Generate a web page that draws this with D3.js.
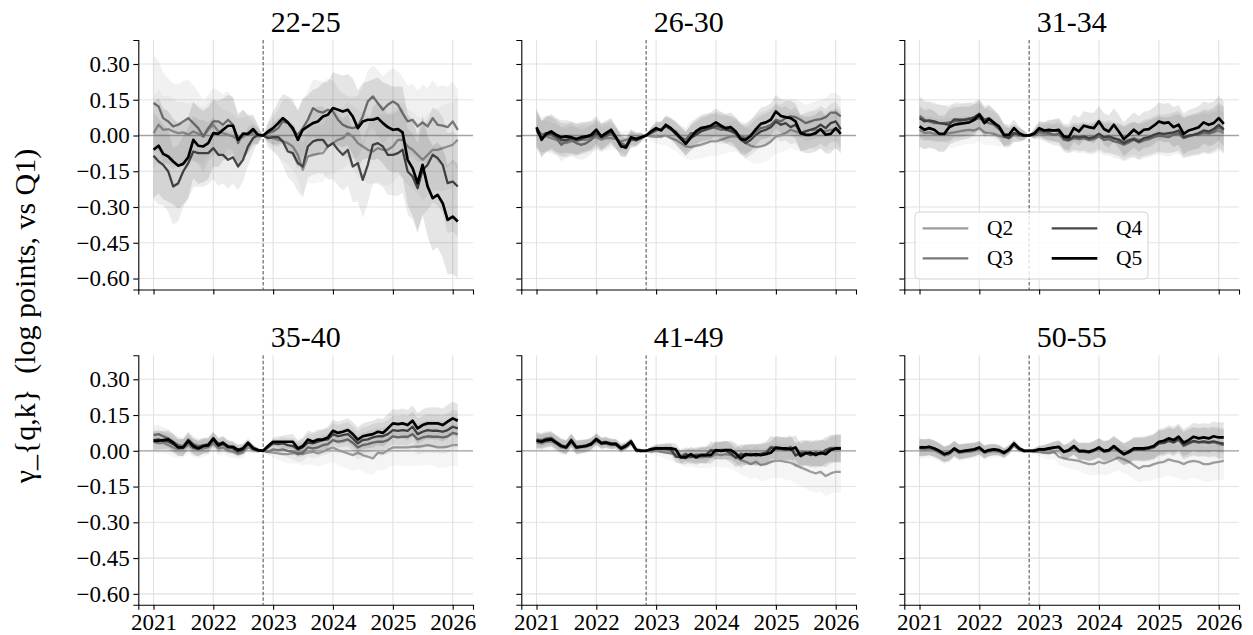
<!DOCTYPE html>
<html>
<head>
<meta charset="utf-8">
<script src="https://cdn.jsdelivr.net/npm/d3@7"></script>
<style>
body { margin: 0; background: #fff; }
svg text { font-family: "Liberation Serif", "Times New Roman", serif; fill: #000; }
</style>
</head>
<body>
<div id="container"></div>
<script>
// age groups (one panel each) and income quintiles (one line each)
var groups = ["22-25", "26-30", "31-34", "35-40", "41-49", "50-55"];
var quintiles = ["Q2", "Q3", "Q4", "Q5"];
var yTicks = [-0.60, -0.45, -0.30, -0.15, 0.00, 0.15, 0.30];
var xTicks = [2021, 2022, 2023, 2024, 2025, 2026];

// monthly estimates Jan 2021 .. Feb 2026 (reference month Nov 2022 = 0)
var p1_q2 = [0.010,0.045,0.024,0.027,0.017,0.010,0.013,0.003,0.017,0.007,-0.004,0.024,0.045,0.017,0.010,0.003,-0.004,-0.018,-0.007,0.010,0.003,-0.004,0,
  -0.004,-0.011,-0.018,-0.025,-0.032,-0.046,-0.081,-0.144,-0.088,-0.081,-0.077,-0.074,-0.046,-0.032,-0.018,-0.011,0.010,-0.004,-0.032,-0.046,-0.060,-0.067,-0.053,-0.060,-0.060,-0.046,-0.018,-0.018,-0.046,-0.060,-0.081,-0.102,-0.081,-0.060,-0.060,-0.053,-0.046,-0.039,-0.018];
var p1_q3 = [0.136,0.122,0.073,0.059,0.038,0.045,0.059,0.073,0.052,0.031,-0.004,0.031,0.059,0.059,0.045,0.066,0.045,-0.032,0.010,0.003,0.017,0.003,0,
  0.010,0.017,0.031,0.059,0.052,0.024,0.003,0.031,0.066,0.115,0.101,0.096,0.108,0.101,0.066,0.045,0.035,0.031,0.038,0.080,0.143,0.164,0.136,0.108,0.129,0.143,0.129,0.094,0.059,0.066,0.038,0.055,0.038,0.073,0.045,0.041,0.035,0.059,0.024];
var p1_q4 = [-0.085,-0.109,-0.123,-0.151,-0.214,-0.200,-0.151,-0.116,-0.067,-0.074,-0.074,-0.074,-0.053,-0.081,-0.081,-0.102,-0.091,-0.130,-0.102,-0.046,-0.011,0.003,0,
  -0.011,-0.007,-0.007,-0.025,-0.067,-0.074,-0.116,-0.130,-0.046,-0.025,-0.018,-0.018,-0.046,-0.032,-0.060,-0.081,-0.060,-0.130,-0.116,-0.186,-0.123,-0.039,-0.032,-0.046,-0.081,-0.081,-0.074,-0.060,-0.151,-0.172,-0.221,-0.144,-0.123,-0.081,-0.095,-0.123,-0.200,-0.193,-0.214];
var p1_q5 = [-0.060,-0.043,-0.077,-0.088,-0.109,-0.127,-0.119,-0.091,-0.018,-0.043,-0.046,-0.032,0.010,0.007,0.024,0.041,0.041,-0.018,0.007,0.007,0.027,0.003,0,
  0.017,0.031,0.052,0.073,0.055,0.031,-0.018,0.024,0.038,0.052,0.059,0.080,0.087,0.115,0.108,0.101,0.108,0.080,0.031,0.059,0.066,0.066,0.073,0.052,0.035,0.024,0.027,0.013,-0.102,-0.137,-0.200,-0.123,-0.214,-0.263,-0.249,-0.284,-0.354,-0.340,-0.361];

var p2_q2 = [0.017,-0.004,-0.004,-0.011,-0.018,-0.025,-0.032,-0.025,-0.025,-0.018,-0.018,-0.011,-0.007,-0.018,-0.011,-0.011,-0.015,-0.025,-0.018,-0.011,-0.011,-0.004,0,
  -0.004,-0.007,-0.004,-0.001,-0.011,-0.018,-0.032,-0.046,-0.049,-0.043,-0.039,-0.032,-0.025,-0.025,-0.018,-0.011,-0.004,-0.004,-0.011,-0.032,-0.043,-0.049,-0.046,-0.039,-0.025,-0.004,0.003,0.010,0.024,0.017,0.010,0.017,0.024,0.021,0.024,0.017,0.024,0.027,0.021];
var p2_q3 = [0.031,0.003,0.010,0.003,-0.011,-0.039,-0.025,-0.018,-0.032,-0.039,-0.032,-0.018,0.003,-0.011,-0.004,0.007,-0.011,-0.032,-0.043,-0.018,-0.018,-0.007,0,
  0.010,0.021,0.027,0.041,0.024,0.017,-0.007,-0.018,0.010,0.010,0.024,0.031,0.035,0.031,0.024,0.027,0.017,0.010,-0.004,-0.011,0.003,0.017,0.031,0.035,0.045,0.066,0.059,0.073,0.080,0.077,0.066,0.052,0.059,0.066,0.069,0.077,0.096,0.096,0.080];
var p2_q4 = [0.024,-0.011,0.003,0.010,-0.004,-0.018,-0.018,-0.011,-0.018,-0.015,-0.007,-0.004,0.010,-0.007,0.003,0.017,-0.011,-0.043,-0.053,-0.015,-0.021,-0.011,0,
  0.013,0.024,0.024,0.038,0.027,0.007,-0.015,-0.032,-0.011,0.003,0.017,0.024,0.031,0.041,0.035,0.024,0.021,0.007,-0.018,-0.032,-0.018,0.003,0.017,0.024,0.035,0.059,0.045,0.052,0.035,0.045,0.010,0.017,0.024,0.031,0.045,0.031,0.052,0.059,0.027];
var p2_q5 = [0.035,-0.018,0.007,0.017,0.003,-0.007,-0.004,-0.007,-0.015,-0.007,-0.004,0.003,0.024,-0.004,0.010,0.024,-0.007,-0.046,-0.049,-0.007,-0.015,-0.007,0,
  0.017,0.031,0.021,0.045,0.031,0.010,-0.011,-0.035,-0.007,0.017,0.031,0.035,0.041,0.055,0.041,0.031,0.035,0.017,-0.015,-0.018,-0.001,0.027,0.049,0.055,0.066,0.101,0.082,0.077,0.073,0.059,0.010,0.003,0.003,0.010,0.027,0.003,0.007,0.031,0.007];

var p3_q2 = [0.024,0.010,0.013,0.007,0.003,0.003,0.010,0.013,0.017,0.021,0.024,0.021,0.031,0.013,0.010,0.007,-0.001,-0.007,-0.007,0.003,-0.001,0,0,
  0.003,0.010,0.007,0.007,0.003,0.003,-0.011,-0.015,-0.007,-0.011,-0.007,-0.011,-0.007,0.003,-0.007,-0.011,-0.015,-0.015,-0.025,-0.018,-0.011,-0.018,-0.015,-0.007,-0.001,0.007,0.003,0.003,0.007,0.013,-0.007,-0.001,0.003,0.007,0.010,0.007,0.013,0.021,0.010];
var p3_q3 = [0.082,0.066,0.059,0.052,0.052,0.052,0.055,0.059,0.059,0.066,0.073,0.066,0.073,0.059,0.052,0.045,0.027,0.003,-0.004,0.010,0.003,0,0,
  0.003,0.017,0.013,0.010,0.003,0.007,-0.018,-0.021,-0.011,-0.015,-0.011,-0.018,-0.015,-0.004,-0.018,-0.015,-0.025,-0.029,-0.039,-0.029,-0.018,-0.029,-0.021,-0.015,-0.007,-0.001,-0.004,-0.007,0.003,0.007,-0.011,-0.004,0.003,0.003,0.013,0.010,0.017,0.035,0.021];
var p3_q4 = [0.073,0.059,0.063,0.059,0.052,0.049,0.045,0.068,0.066,0.066,0.068,0.077,0.091,0.066,0.073,0.055,0.035,-0.004,-0.011,0.010,0.003,0,0,
  0.010,0.024,0.021,0.017,0.021,0.017,-0.011,-0.018,-0.004,-0.007,-0.004,-0.011,-0.007,0.007,-0.007,-0.004,-0.011,-0.018,-0.032,-0.021,-0.015,-0.025,-0.011,-0.007,0.003,0.010,0.007,0.010,0.013,0.021,-0.007,-0.001,0.003,0.010,0.021,0.017,0.027,0.045,0.027];
var p3_q5 = [0.038,0.024,0.031,0.024,0.007,0.007,0.035,0.045,0.049,0.052,0.055,0.066,0.087,0.052,0.069,0.052,0.038,0.003,0.003,0.031,0.010,0.000,0,
  0.007,0.031,0.021,0.024,0.021,0.024,-0.004,-0.007,0.031,0.017,0.041,0.035,0.031,0.059,0.027,0.017,0.045,0.017,-0.015,0.003,0.024,0.007,0.024,0.027,0.041,0.059,0.052,0.055,0.035,0.045,0.007,0.021,0.027,0.035,0.055,0.045,0.052,0.073,0.049];

var p4_q2 = [0.038,0.031,0.034,0.024,0.014,0.006,0.010,0.024,0.010,0.003,0.010,0.014,0.031,0.010,0.014,0.003,-0.004,-0.014,-0.008,0.014,0.003,0,0,
  -0.004,-0.008,-0.011,-0.014,-0.014,-0.011,-0.008,-0.014,-0.008,-0.004,-0.011,-0.004,0.006,0.014,0.003,-0.004,-0.011,-0.018,-0.008,-0.018,-0.025,-0.032,-0.008,-0.011,0.003,0.014,0.014,0.014,0.014,0.017,0.017,0.020,0.024,0.020,0.014,0.014,0.017,0.024,0.024];
var p4_q3 = [0.066,0.070,0.061,0.052,0.038,0.024,0.020,0.048,0.028,0.020,0.024,0.028,0.048,0.031,0.034,0.020,0.014,0.006,0.010,0.031,0.014,0.003,0,
  -0.004,0.006,0.003,0.006,0,-0.004,-0.014,-0.008,0.014,0.010,0.014,0.024,0.028,0.045,0.038,0.042,0.048,0.034,0.014,0.024,0.028,0.034,0.038,0.038,0.045,0.061,0.056,0.059,0.059,0.070,0.048,0.056,0.061,0.059,0.059,0.056,0.061,0.075,0.070];
var p4_q4 = [0.045,0.048,0.042,0.038,0.028,0.014,0.014,0.038,0.014,0.010,0.020,0.020,0.045,0.020,0.028,0.014,0.010,-0.004,0.003,0.028,0.010,0,0,
  0.014,0.031,0.028,0.031,0.024,0.020,0.006,0.014,0.034,0.031,0.038,0.045,0.048,0.070,0.061,0.066,0.070,0.052,0.031,0.045,0.048,0.056,0.061,0.061,0.070,0.087,0.084,0.087,0.084,0.101,0.070,0.080,0.087,0.084,0.084,0.080,0.087,0.101,0.094];
var p4_q5 = [0.042,0.042,0.045,0.048,0.034,0.014,0.014,0.042,0.020,0.010,0.020,0.024,0.052,0.024,0.034,0.017,0.017,0.003,0.010,0.034,0.010,0.003,0,
  0.020,0.038,0.038,0.038,0.038,0.038,0.010,0.020,0.047,0.038,0.047,0.047,0.056,0.084,0.075,0.080,0.087,0.070,0.047,0.061,0.066,0.070,0.080,0.075,0.094,0.115,0.112,0.115,0.108,0.126,0.094,0.108,0.115,0.115,0.115,0.108,0.122,0.136,0.126];

var p5_q2 = [0.035,0.030,0.038,0.040,0.028,0.014,0.010,0.035,0.010,0.014,0.017,0.024,0.042,0.028,0.030,0.024,0.024,0.006,0.014,0.030,0.000,0,0,
  -0.004,0,-0.004,-0.008,-0.011,-0.014,-0.025,-0.032,-0.025,-0.028,-0.028,-0.025,-0.025,-0.014,-0.018,-0.014,-0.018,-0.025,-0.039,-0.046,-0.056,-0.046,-0.060,-0.056,-0.046,-0.042,-0.042,-0.046,-0.050,-0.060,-0.070,-0.078,-0.088,-0.095,-0.088,-0.106,-0.095,-0.088,-0.088];
var p5_q3 = [0.048,0.045,0.052,0.055,0.038,0.024,0.017,0.048,0.017,0.020,0.024,0.031,0.052,0.035,0.038,0.031,0.031,0.014,0.024,0.042,0.006,0.000,0,
  0.008,0.012,0.010,0.012,0.008,-0.022,-0.024,-0.012,-0.024,-0.016,-0.016,-0.016,0.004,0.002,0.004,0.004,-0.008,-0.028,-0.012,-0.016,-0.012,-0.016,-0.012,-0.006,0.016,0.012,0.012,0.008,0.016,-0.018,-0.008,-0.006,-0.016,-0.006,-0.012,0.004,0.012,0.012,0.012];
var p5_q4 = [0.045,0.042,0.048,0.050,0.036,0.022,0.016,0.045,0.016,0.018,0.022,0.030,0.050,0.033,0.036,0.030,0.030,0.012,0.022,0.040,0.004,0.001,0,
  0.006,0.008,0.008,0.008,0.004,-0.025,-0.026,-0.016,-0.026,-0.020,-0.020,-0.020,0.001,-0.002,0.001,0.001,-0.012,-0.030,-0.016,-0.020,-0.016,-0.020,-0.016,-0.010,0.012,0.008,0.008,0.004,0.012,-0.020,-0.010,-0.008,-0.018,-0.008,-0.014,0.001,0.008,0.008,0.008];
var p5_q5 = [0.042,0.038,0.045,0.048,0.034,0.020,0.014,0.042,0.014,0.017,0.020,0.028,0.048,0.031,0.034,0.028,0.028,0.010,0.020,0.038,0.003,0,0,
  0.006,0.010,0.010,0.010,0.010,0.006,-0.028,-0.028,-0.014,-0.028,-0.018,-0.018,-0.018,0.003,0,0.003,0.003,-0.011,-0.032,-0.014,-0.018,-0.014,-0.018,-0.014,-0.008,0.014,0.010,0.010,0.006,0.014,-0.022,-0.011,-0.008,-0.018,-0.008,-0.014,0.003,0.010,0.010];

var p6_q2 = [0.007,0.005,0.008,0.002,-0.008,-0.020,-0.015,0.003,-0.010,-0.006,-0.004,-0.001,0.007,-0.010,-0.004,-0.001,-0.004,-0.014,0.000,0.022,0.004,-0.002,0,
  -0.003,-0.004,-0.008,-0.011,-0.004,-0.025,-0.032,-0.036,-0.039,-0.042,-0.050,-0.056,-0.056,-0.046,-0.053,-0.046,-0.036,-0.028,-0.036,-0.046,-0.060,-0.074,-0.064,-0.064,-0.056,-0.050,-0.046,-0.036,-0.042,-0.046,-0.056,-0.046,-0.042,-0.046,-0.056,-0.056,-0.050,-0.046,-0.042];
var p6_q3 = [0.012,0.012,0.015,0.008,-0.002,-0.016,-0.010,0.008,-0.006,-0.002,0.001,0.004,0.012,-0.006,0.001,0.004,0.001,-0.010,0.004,0.028,0.008,0,0,
  0.002,0.004,0.004,0.008,0.012,0.014,-0.006,0,0.014,-0.004,-0.004,-0.008,-0.001,0.010,-0.004,-0.001,0.014,-0.002,-0.016,-0.008,0.004,0.004,0.004,0.008,0.014,0.030,0.032,0.040,0.034,0.046,0.020,0.030,0.038,0.034,0.036,0.032,0.036,0.030,0.024];
var p6_q4 = [0.013,0.013,0.016,0.009,-0.001,-0.015,-0.009,0.009,-0.005,-0.001,0.002,0.005,0.013,-0.005,0.002,0.005,0.002,-0.009,0.005,0.030,0.009,0,0,
  0.001,0.005,0.005,0.009,0.013,0.016,-0.005,0.001,0.016,-0.002,-0.002,-0.005,0.002,0.013,-0.002,0.001,0.016,0,-0.014,-0.006,0.006,0.006,0.006,0.010,0.016,0.032,0.034,0.044,0.036,0.050,0.024,0.034,0.042,0.036,0.040,0.036,0.040,0.034,0.030];
var p6_q5 = [0.014,0.014,0.017,0.010,0,-0.014,-0.008,0.010,-0.004,0,0.003,0.006,0.014,-0.004,0.003,0.006,0.003,-0.008,0.006,0.031,0.010,0,0,
  0,0.006,0.006,0.010,0.014,0.017,-0.004,0.003,0.020,0,0,-0.004,0.003,0.014,0,0.003,0.020,0.003,-0.014,-0.004,0.010,0.010,0.010,0.014,0.020,0.038,0.042,0.052,0.045,0.059,0.034,0.045,0.059,0.052,0.056,0.052,0.061,0.056,0.056];

// half-widths of the confidence bands
var p1_ci2 = [0.15,0.15,0.14,0.14,0.14,0.13,0.13,0.13,0.12,0.12,0.12,0.11,0.11,0.11,0.10,0.10,0.09,0.09,0.08,0.07,0.05,0.03,0,
  0.03,0.05,0.07,0.08,0.09,0.10,0.10,0.11,0.11,0.12,0.12,0.12,0.12,0.13,0.13,0.13,0.13,0.13,0.14,0.14,0.14,0.14,0.14,0.15,0.15,0.15,0.15,0.16,0.16,0.16,0.16,0.17,0.17,0.17,0.17,0.18,0.18,0.18,0.18];
var p1_ci3 = [0.20,0.19,0.19,0.18,0.18,0.17,0.17,0.16,0.16,0.15,0.15,0.14,0.14,0.13,0.13,0.12,0.11,0.11,0.10,0.08,0.06,0.04,0,
  0.04,0.06,0.08,0.09,0.10,0.11,0.11,0.12,0.12,0.12,0.13,0.13,0.13,0.13,0.13,0.13,0.13,0.13,0.13,0.13,0.13,0.13,0.14,0.14,0.14,0.14,0.14,0.15,0.15,0.15,0.15,0.16,0.16,0.16,0.16,0.17,0.17,0.17,0.17];
var p1_ci4 = [0.18,0.18,0.17,0.17,0.16,0.16,0.15,0.15,0.15,0.14,0.14,0.13,0.13,0.13,0.12,0.12,0.11,0.10,0.09,0.08,0.06,0.03,0,
  0.04,0.06,0.08,0.10,0.11,0.12,0.12,0.13,0.13,0.14,0.14,0.14,0.14,0.15,0.15,0.15,0.15,0.15,0.16,0.16,0.16,0.16,0.17,0.17,0.17,0.17,0.18,0.18,0.18,0.18,0.19,0.19,0.19,0.20,0.20,0.20,0.21,0.21,0.21];
var p1_ci5 = [0.20,0.20,0.19,0.19,0.18,0.18,0.17,0.17,0.16,0.16,0.15,0.15,0.14,0.14,0.13,0.13,0.12,0.11,0.10,0.08,0.06,0.04,0,
  0.04,0.07,0.09,0.10,0.11,0.12,0.12,0.13,0.13,0.14,0.14,0.14,0.14,0.15,0.15,0.15,0.15,0.16,0.16,0.16,0.16,0.17,0.17,0.17,0.18,0.18,0.18,0.19,0.19,0.20,0.20,0.21,0.21,0.22,0.22,0.23,0.23,0.24,0.24];
var p2_ci2 = [0.070,0.068,0.067,0.066,0.065,0.064,0.063,0.062,0.061,0.060,0.058,0.057,0.055,0.053,0.051,0.048,0.045,0.042,0.038,0.033,0.027,0.018,0,
  0.020,0.029,0.035,0.040,0.044,0.047,0.050,0.052,0.054,0.056,0.058,0.059,0.060,0.061,0.062,0.063,0.064,0.065,0.066,0.067,0.068,0.069,0.070,0.071,0.072,0.073,0.074,0.075,0.076,0.077,0.078,0.079,0.080,0.081,0.082,0.083,0.084,0.085,0.086];
var p2_ci = [0.078,0.075,0.074,0.072,0.071,0.070,0.068,0.067,0.066,0.064,0.062,0.060,0.058,0.056,0.053,0.050,0.047,0.043,0.039,0.034,0.028,0.019,0,
  0.020,0.029,0.035,0.040,0.044,0.047,0.049,0.051,0.053,0.054,0.055,0.056,0.057,0.058,0.059,0.060,0.061,0.062,0.063,0.064,0.065,0.066,0.067,0.068,0.069,0.070,0.071,0.072,0.073,0.074,0.075,0.076,0.077,0.078,0.079,0.080,0.081,0.082,0.083];
var p3_ci2 = [0.070,0.069,0.068,0.067,0.066,0.065,0.064,0.063,0.062,0.060,0.058,0.056,0.054,0.052,0.050,0.047,0.044,0.040,0.036,0.031,0.025,0.017,0,
  0.018,0.026,0.032,0.037,0.041,0.044,0.047,0.049,0.051,0.053,0.055,0.057,0.058,0.060,0.061,0.062,0.064,0.065,0.066,0.067,0.068,0.069,0.070,0.071,0.072,0.073,0.074,0.075,0.076,0.077,0.078,0.079,0.080,0.081,0.082,0.083,0.084,0.085,0.086];
var p3_ci = [0.085,0.082,0.081,0.079,0.077,0.076,0.074,0.072,0.071,0.069,0.067,0.065,0.062,0.060,0.057,0.054,0.050,0.046,0.041,0.036,0.029,0.020,0,
  0.020,0.030,0.036,0.042,0.046,0.050,0.052,0.055,0.057,0.059,0.061,0.062,0.064,0.065,0.066,0.068,0.069,0.070,0.071,0.072,0.074,0.075,0.076,0.077,0.078,0.079,0.080,0.082,0.083,0.084,0.085,0.086,0.087,0.088,0.089,0.090,0.091,0.093,0.095];
var p4_ci2 = [0.042,0.041,0.041,0.040,0.039,0.038,0.038,0.037,0.036,0.035,0.034,0.033,0.032,0.030,0.029,0.027,0.025,0.023,0.021,0.018,0.015,0.010,0,
  0.014,0.022,0.028,0.033,0.038,0.042,0.045,0.048,0.051,0.053,0.055,0.057,0.059,0.061,0.062,0.064,0.065,0.067,0.068,0.069,0.070,0.071,0.072,0.073,0.074,0.075,0.076,0.077,0.078,0.079,0.080,0.081,0.082,0.083,0.084,0.085,0.086,0.087,0.088];
var p4_ci = [0.040,0.040,0.038,0.038,0.037,0.036,0.036,0.035,0.034,0.033,0.032,0.031,0.030,0.029,0.028,0.026,0.024,0.022,0.020,0.017,0.014,0.010,0,
  0.012,0.018,0.022,0.026,0.029,0.032,0.034,0.036,0.038,0.040,0.042,0.043,0.045,0.046,0.047,0.049,0.050,0.051,0.052,0.054,0.055,0.056,0.057,0.058,0.059,0.060,0.061,0.062,0.063,0.064,0.065,0.066,0.067,0.068,0.068,0.069,0.070,0.070,0.071];
var p5_ci2 = [0.034,0.033,0.033,0.032,0.032,0.031,0.031,0.030,0.030,0.029,0.028,0.027,0.026,0.025,0.024,0.022,0.020,0.018,0.016,0.014,0.011,0.008,0,
  0.012,0.018,0.023,0.027,0.030,0.033,0.036,0.039,0.041,0.043,0.045,0.047,0.049,0.051,0.053,0.055,0.057,0.059,0.060,0.062,0.064,0.065,0.067,0.068,0.070,0.071,0.073,0.074,0.075,0.077,0.078,0.079,0.081,0.082,0.083,0.085,0.086,0.087,0.089];
var p5_ci = [0.032,0.031,0.031,0.030,0.030,0.029,0.029,0.028,0.028,0.027,0.026,0.025,0.024,0.023,0.022,0.021,0.019,0.017,0.015,0.013,0.011,0.008,0,
  0.010,0.015,0.018,0.021,0.023,0.025,0.027,0.029,0.030,0.032,0.033,0.034,0.035,0.036,0.037,0.038,0.039,0.040,0.041,0.042,0.043,0.044,0.045,0.046,0.047,0.048,0.048,0.049,0.050,0.051,0.052,0.052,0.053,0.054,0.055,0.055,0.056,0.057,0.058];
var p6_ci2 = [0.038,0.037,0.037,0.036,0.036,0.035,0.035,0.034,0.033,0.033,0.032,0.031,0.030,0.029,0.027,0.026,0.024,0.022,0.019,0.016,0.013,0.009,0,
  0.012,0.018,0.023,0.027,0.030,0.033,0.036,0.038,0.040,0.042,0.044,0.046,0.048,0.050,0.051,0.053,0.054,0.056,0.057,0.058,0.060,0.061,0.062,0.063,0.064,0.065,0.066,0.067,0.068,0.069,0.070,0.071,0.072,0.073,0.074,0.075,0.076,0.077,0.078];
var p6_ci = [0.036,0.035,0.035,0.034,0.034,0.033,0.033,0.032,0.031,0.031,0.030,0.029,0.028,0.027,0.025,0.024,0.022,0.020,0.018,0.015,0.012,0.008,0,
  0.010,0.015,0.019,0.022,0.025,0.027,0.029,0.031,0.033,0.035,0.036,0.038,0.039,0.040,0.042,0.043,0.044,0.045,0.046,0.047,0.048,0.049,0.050,0.051,0.052,0.053,0.054,0.055,0.056,0.056,0.057,0.058,0.059,0.060,0.060,0.061,0.062,0.063,0.064];

var estimates = [
  [p1_q2, p1_q3, p1_q4, p1_q5], [p2_q2, p2_q3, p2_q4, p2_q5], [p3_q2, p3_q3, p3_q4, p3_q5],
  [p4_q2, p4_q3, p4_q4, p4_q5], [p5_q2, p5_q3, p5_q4, p5_q5], [p6_q2, p6_q3, p6_q4, p6_q5]
];
var bands = [
  [p1_ci2, p1_ci3, p1_ci4, p1_ci5], [p2_ci2, p2_ci, p2_ci, p2_ci], [p3_ci2, p3_ci, p3_ci, p3_ci],
  [p4_ci2, p4_ci, p4_ci, p4_ci], [p5_ci2, p5_ci, p5_ci, p5_ci], [p6_ci2, p6_ci, p6_ci, p6_ci]
];

// layout
var width = 1253, height = 635;
var panelW = 334.7, panelH = 249.5;
var colX = [138.3, 521.3, 904.3], rowY = [40, 355.3];
var colors = ["#9c9c9c", "#787878", "#474747", "#000000"];
var widths = [2.3, 2.3, 2.3, 2.7];

var months = d3.timeMonth.range(new Date(2021, 0, 1), new Date(2026, 2, 1));
var refDate = new Date(2022, 10, 1);
var span = months[months.length - 1] - months[0];
var x = d3.scaleTime()
  .domain([new Date(+months[0] - 0.05 * span), new Date(+months[months.length - 1] + 0.05 * span)])
  .range([0, panelW]);
var y = d3.scaleLinear().domain([-0.646, 0.4006]).range([panelH, 0]);
var yearDates = xTicks.map(function(yr) { return new Date(yr, 0, 1); });

var svg = d3.select("#container").append("svg")
  .attr("width", width).attr("height", height);

svg.append("text")
  .attr("transform", "translate(35,316) rotate(-90)")
  .style("text-anchor", "middle")
  .style("font-size", "30px")
  .style("white-space", "pre")
  .text("γ_{q,k}  (log points, vs Q1)");

groups.forEach(function(name, p) {
  var col = p % 3, row = Math.floor(p / 3);
  var g = svg.append("g")
    .attr("transform", "translate(" + colX[col] + "," + rowY[row] + ")");

  // grid
  g.selectAll(".vgrid").data(yearDates).enter().append("line")
    .attr("x1", function(d) { return x(d); }).attr("x2", function(d) { return x(d); })
    .attr("y1", 0).attr("y2", panelH)
    .style("stroke", "#e2e2e2").style("stroke-width", 1.1);
  g.selectAll(".hgrid").data(yTicks).enter().append("line")
    .attr("x1", 0).attr("x2", panelW)
    .attr("y1", function(d) { return y(d); }).attr("y2", function(d) { return y(d); })
    .style("stroke", "#e2e2e2").style("stroke-width", 1.1);

  // zero line and reference month
  g.append("line")
    .attr("x1", 0).attr("x2", panelW).attr("y1", y(0)).attr("y2", y(0))
    .style("stroke", "#a3a3a3").style("stroke-width", 1.3);
  g.append("line")
    .attr("x1", x(refDate)).attr("x2", x(refDate)).attr("y1", 0).attr("y2", panelH)
    .style("stroke", "#333").style("stroke-width", 0.9).style("stroke-dasharray", "3.5,2");

  quintiles.forEach(function(q, k) {
    var vals = estimates[p][k], ci = bands[p][k];
    var area = d3.area()
      .x(function(d, i) { return x(months[i]); })
      .y0(function(d, i) { return y(d - ci[i]); })
      .y1(function(d, i) { return y(d + ci[i]); });
    g.append("path").datum(vals)
      .attr("d", area)
      .style("fill", colors[k]).style("fill-opacity", 0.1).style("stroke", "none");
    var line = d3.line()
      .x(function(d, i) { return x(months[i]); })
      .y(function(d) { return y(d); });
    g.append("path").datum(vals)
      .attr("d", line)
      .style("fill", "none").style("stroke", colors[k])
      .style("stroke-width", widths[k]).style("stroke-linejoin", "round");
  });

  // axes
  var yAxis = d3.axisLeft(y).tickValues(yTicks).tickSizeOuter(0).tickSize(5).tickPadding(3.5)
    .tickFormat(col === 0 ? d3.format(".2f") : "");
  var xAxis = d3.axisBottom(x).tickValues(yearDates).tickSizeOuter(0).tickSize(5).tickPadding(3.5)
    .tickFormat(row === 1 ? d3.timeFormat("%Y") : "");
  var ya = g.append("g").call(yAxis);
  var xa = g.append("g").attr("transform", "translate(0," + panelH + ")").call(xAxis);
  [ya, xa].forEach(function(a) {
    a.attr("font-family", null);
    a.select(".domain").style("stroke", "#000").style("stroke-width", 1.1);
    a.selectAll(".tick line").style("stroke", "#000").style("stroke-width", 1.1);
    a.selectAll("text").style("font-size", "23px").attr("fill", "#000");
  });

  g.append("text")
    .attr("x", panelW / 2).attr("y", -8)
    .style("text-anchor", "middle").style("font-size", "30px")
    .text(name);

  // legend in the third panel
  if (p === 2) {
    var lg = g.append("g").attr("transform", "translate(10.7,172)");
    lg.append("rect")
      .attr("width", 233).attr("height", 67).attr("rx", 4)
      .style("fill", "#fff").style("fill-opacity", 0.8)
      .style("stroke", "#d4d4d4").style("stroke-width", 1);
    var item = lg.selectAll(".legend").data(quintiles).enter().append("g")
      .attr("transform", function(d, i) {
        return "translate(" + (Math.floor(i / 2) * 129) + "," + (16.3 + (i % 2) * 30) + ")";
      });
    item.append("line")
      .attr("x1", 7.7).attr("x2", 53.3).attr("y1", 0).attr("y2", 0)
      .style("stroke", function(d, i) { return colors[i]; })
      .style("stroke-width", function(d, i) { return widths[i]; });
    item.append("text")
      .attr("x", 72).attr("y", 0).attr("dy", "0.33em")
      .style("font-size", "21.5px")
      .text(function(d) { return d; });
  }
});
</script>
</body>
</html>
